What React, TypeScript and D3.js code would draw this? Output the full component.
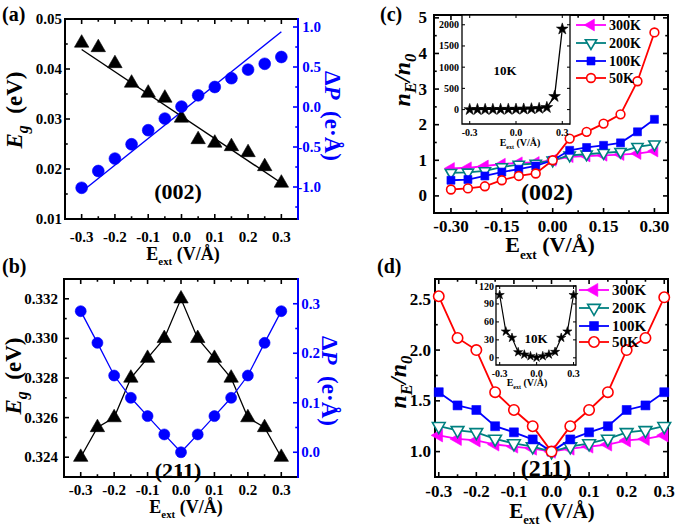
import React from 'react';
import * as d3 from 'd3';

const FONT = '"Liberation Serif", "Times New Roman", serif';
const BLUE = '#0000ff';
const MAGENTA = '#ff00ff';
const TEAL = '#008080';
const RED = '#ff0000';

// applied field E_ext (V/Å)
const field = [-0.3, -0.25, -0.2, -0.15, -0.1, -0.05, 0, 0.05, 0.1, 0.15, 0.2, 0.25, 0.3];
const fitEnds = [-0.3, 0.3];

// (a) (002) surface
const egA = [0.0452, 0.0443, 0.0411, 0.0372, 0.0352, 0.0342, 0.0302, 0.0259, 0.0252, 0.0245, 0.0233, 0.0205, 0.0172];
const dpA = [-1.01, -0.8, -0.645, -0.466, -0.29, -0.145, 0.005, 0.146, 0.25, 0.36, 0.467, 0.54, 0.625];
const egFitA = [0.0439, 0.0172];
const dpFitA = [-1.06, 0.94];

// (b) (211) surface
const egB = [0.324, 0.3255, 0.326, 0.328, 0.329, 0.33, 0.332, 0.33, 0.329, 0.328, 0.326, 0.3255, 0.324];
const dpB = [0.285, 0.221, 0.155, 0.11, 0.073, 0.036, 0, 0.036, 0.073, 0.11, 0.155, 0.221, 0.285];

// (c) n_E/n_0 for (002)
const nC300 = [0.77, 0.79, 0.84, 0.89, 0.93, 0.94, 1.0, 1.1, 1.12, 1.14, 1.16, 1.19, 1.26];
const nC200 = [0.65, 0.66, 0.7, 0.81, 0.88, 0.91, 1.0, 1.14, 1.17, 1.21, 1.24, 1.38, 1.45];
const nC100 = [0.44, 0.46, 0.56, 0.67, 0.75, 0.84, 1.0, 1.28, 1.36, 1.42, 1.49, 1.8, 2.15];
const nC50 = [0.18, 0.21, 0.27, 0.44, 0.56, 0.63, 1.0, 1.61, 1.8, 2.03, 2.29, 3.22, 4.59];
const nC10 = [1, 2, 3, 4, 5, 6, 8, 12, 18, 28, 50, 310, 1900];

// (d) n_E/n_0 for (211)
const nD300 = [1.16, 1.125, 1.11, 1.07, 1.05, 1.03, 1.0, 1.03, 1.05, 1.07, 1.11, 1.125, 1.16];
const nD200 = [1.25, 1.21, 1.19, 1.125, 1.08, 1.05, 1.0, 1.05, 1.08, 1.125, 1.19, 1.21, 1.25];
const nD100 = [1.585, 1.455, 1.41, 1.25, 1.19, 1.12, 1.0, 1.12, 1.19, 1.25, 1.41, 1.455, 1.585];
const nD50 = [2.53, 2.12, 2.0, 1.585, 1.41, 1.25, 1.0, 1.25, 1.41, 1.585, 2.0, 2.12, 2.52];
const nD10 = [105, 44, 33.5, 9.5, 5.5, 2.7, 0.5, 2.8, 5.6, 10, 33.5, 44, 105];

const temps = ['300K', '200K', '100K', '50K'];

// ticks
const ticksE = [-0.3, -0.2, -0.1, 0, 0.1, 0.2, 0.3];
const minorE = [-0.25, -0.15, -0.05, 0.05, 0.15, 0.25];
const ticksEc = [-0.3, -0.15, 0, 0.15, 0.3];
const minorEc = [-0.225, -0.075, 0.075, 0.225];
const ticksEgA = [0.01, 0.02, 0.03, 0.04, 0.05];
const minorEgA = [0.015, 0.025, 0.035, 0.045];
const ticksDpA = [-1, -0.5, 0, 0.5, 1];
const minorDpA = [-1.25, -0.75, -0.25, 0.25, 0.75];
const ticksEgB = [0.324, 0.326, 0.328, 0.33, 0.332];
const minorEgB = [0.323, 0.325, 0.327, 0.329, 0.331];
const ticksDpB = [0, 0.1, 0.2, 0.3];
const minorDpB = [0.05, 0.15, 0.25];
const ticksNc = [0, 1, 2, 3, 4, 5];
const minorNc = [0.5, 1.5, 2.5, 3.5, 4.5];
const ticksNd = [1, 1.5, 2, 2.5];
const minorNd = [1.25, 1.75, 2.25];
const ticksInX = [-0.3, 0, 0.3];
const ticksInC = [0, 500, 1000, 1500, 2000];
const ticksInD = [0, 30, 60, 90, 120];

const f1 = (v: number) => v.toFixed(1);
const f2 = (v: number) => v.toFixed(2);
const f3 = (v: number) => v.toFixed(3);
const f0 = (v: number) => v.toFixed(0);

type Scale = d3.ScaleLinear<number, number>;

const symPath = (kind: string, size: number) => {
  const type = kind.startsWith('tri')
    ? d3.symbolTriangle
    : kind === 'square'
    ? d3.symbolSquare
    : kind === 'star'
    ? d3.symbolStar
    : d3.symbolCircle;
  return d3.symbol().type(type).size(size)() || '';
};
const rot: Record<string, number> = { triLeft: -90, triDown: 180 };

const Marker = ({ kind, cx, cy, size, color, open }: any) => (
  <path
    d={symPath(kind, size)}
    transform={`translate(${cx},${cy}) rotate(${rot[kind] || 0})`}
    fill={open ? '#fff' : color}
    stroke={color}
    strokeWidth={open ? 1.6 : 0.6}
  />
);

const Series = ({ x, y, ys, color, lw, kind, size, open, noLine }: any) => {
  const line = d3
    .line<number>()
    .x((_, i) => x(field[i]))
    .y((v) => y(v));
  return (
    <g>
      {!noLine && <path d={line(ys) || ''} fill="none" stroke={color} strokeWidth={lw} />}
      {ys.map((v: number, i: number) => (
        <Marker key={i} kind={kind} cx={x(field[i])} cy={y(v)} size={size} color={color} open={open} />
      ))}
    </g>
  );
};

type FrameProps = {
  x: Scale;
  y: Scale;
  yR?: Scale;
  xTicks: number[];
  xMinor?: number[];
  yTicks: number[];
  yMinor?: number[];
  yRTicks?: number[];
  yRMinor?: number[];
  xFmt: (v: number) => string;
  yFmt: (v: number) => string;
  yRFmt?: (v: number) => string;
  fs: number;
  len: number;
  lw: number;
  xLab: number;
  yLab: number;
  yRLab?: number;
  rColor?: string;
  fill?: string;
};

const Frame = (p: FrameProps) => {
  const [x0, x1] = p.x.range();
  const [yb, yt] = p.y.range();
  const ml = p.len * 0.55;
  const rc = p.rColor || '#000';
  const rs = p.yR || p.y;
  const rTicks = p.yRTicks || p.yTicks;
  const rMinor = p.yRMinor || p.yMinor || [];
  const tk = (k: string, a: number, b: number, c: number, d: number, col = '#000') => (
    <line key={k} x1={a} y1={b} x2={c} y2={d} stroke={col} strokeWidth={p.lw * 0.8} />
  );
  return (
    <g>
      {p.fill && <rect x={x0} y={yt} width={x1 - x0} height={yb - yt} fill={p.fill} />}
      {p.xTicks.map((v) => tk('xb' + v, p.x(v), yb, p.x(v), yb - p.len))}
      {p.xTicks.map((v) => tk('xt' + v, p.x(v), yt, p.x(v), yt + p.len))}
      {(p.xMinor || []).map((v) => tk('xmb' + v, p.x(v), yb, p.x(v), yb - ml))}
      {(p.xMinor || []).map((v) => tk('xmt' + v, p.x(v), yt, p.x(v), yt + ml))}
      {p.yTicks.map((v) => tk('yl' + v, x0, p.y(v), x0 + p.len, p.y(v)))}
      {(p.yMinor || []).map((v) => tk('yml' + v, x0, p.y(v), x0 + ml, p.y(v)))}
      {rTicks.map((v) => tk('yr' + v, x1, rs(v), x1 - p.len, rs(v), rc))}
      {rMinor.map((v) => tk('ymr' + v, x1, rs(v), x1 - ml, rs(v), rc))}
      <path d={`M${x1},${yt}H${x0}V${yb}H${x1}`} fill="none" stroke="#000" strokeWidth={p.lw} />
      <line x1={x1} y1={yt - p.lw / 2} x2={x1} y2={yb + p.lw / 2} stroke={rc} strokeWidth={p.lw} />
      {p.xTicks.map((v) => (
        <text key={'lx' + v} x={p.x(v)} y={yb + p.xLab} textAnchor="middle" dominantBaseline="central" fontSize={p.fs}>
          {p.xFmt(v)}
        </text>
      ))}
      {p.yTicks.map((v) => (
        <text key={'ly' + v} x={x0 - p.yLab} y={p.y(v)} textAnchor="end" dominantBaseline="central" fontSize={p.fs}>
          {p.yFmt(v)}
        </text>
      ))}
      {p.yR &&
        p.yRFmt &&
        rTicks.map((v) => (
          <text key={'lr' + v} x={x1 + (p.yRLab || 0)} y={rs(v)} textAnchor="end" dominantBaseline="central" fontSize={p.fs} fill={rc}>
            {p.yRFmt!(v)}
          </text>
        ))}
    </g>
  );
};

const EextTitle = ({ x, y, fs }: any) => (
  <text x={x} y={y} fontSize={fs} textAnchor="middle">
    E
    <tspan fontSize={fs * 0.6} dy={fs * 0.3}>
      ext
    </tspan>
    <tspan dy={-fs * 0.3}>{'\u00a0(V/Å)'}</tspan>
  </text>
);

const EgTitle = ({ x, y, fs }: any) => (
  <text transform={`translate(${x},${y}) rotate(-90)`} fontSize={fs} textAnchor="middle">
    <tspan fontStyle="italic">E</tspan>
    <tspan fontStyle="italic" fontSize={fs * 0.7} dy={fs * 0.25}>
      g
    </tspan>
    <tspan dy={-fs * 0.25}>{'\u00a0\u00a0(eV)'}</tspan>
  </text>
);

const DpTitle = ({ x, y, fs }: any) => (
  <text transform={`translate(${x},${y}) rotate(90)`} fontSize={fs} textAnchor="middle" fill={BLUE}>
    Δ<tspan fontStyle="italic">P</tspan>
    {'\u00a0\u00a0(e·Å)'}
  </text>
);

const NTitle = ({ x, y, fs }: any) => (
  <text transform={`translate(${x},${y}) rotate(-90)`} fontSize={fs} textAnchor="middle" fontStyle="italic">
    n
    <tspan fontSize={fs * 0.7} dy={fs * 0.25}>
      E
    </tspan>
    <tspan dy={-fs * 0.25}>/n</tspan>
    <tspan fontSize={fs * 0.7} dy={fs * 0.25}>
      0
    </tspan>
  </text>
);

const seriesStyle = [
  { color: MAGENTA, kind: 'triLeft', open: false },
  { color: TEAL, kind: 'triDown', open: true },
  { color: BLUE, kind: 'square', open: false },
  { color: RED, kind: 'circle', open: true },
];

const Legend = ({ x, ys, fs, len, sizes }: any) => (
  <g>
    {temps.map((t, i) => {
      const s = seriesStyle[i];
      return (
        <g key={t}>
          <line x1={x} x2={x + len} y1={ys[i]} y2={ys[i]} stroke={s.color} strokeWidth={1.8} />
          <Marker kind={s.kind} cx={x + len / 2} cy={ys[i]} size={sizes[i]} color={s.color} open={s.open} />
          <text x={x + len + 3} y={ys[i]} dominantBaseline="central" fontSize={fs}>
            {t}
          </text>
        </g>
      );
    })}
  </g>
);

const PanelA = () => {
  const x = d3.scaleLinear().domain([-0.35, 0.35]).range([65, 298]);
  const y = d3.scaleLinear().domain([0.01, 0.05]).range([219, 19]);
  const yR = d3.scaleLinear().domain([-1.4, 1.1]).range([219, 19]);
  return (
    <g>
      <Frame
        x={x} y={y} yR={yR}
        xTicks={ticksE} xMinor={minorE} yTicks={ticksEgA} yMinor={minorEgA}
        yRTicks={ticksDpA} yRMinor={minorDpA}
        xFmt={f1} yFmt={f2} yRFmt={f1}
        fs={15} len={5} lw={2} xLab={18} yLab={3} yRLab={23} rColor={BLUE}
      />
      <line x1={x(fitEnds[0])} x2={x(fitEnds[1])} y1={y(egFitA[0])} y2={y(egFitA[1])} stroke="#000" strokeWidth={1.4} />
      <line x1={x(fitEnds[0])} x2={x(fitEnds[1])} y1={yR(dpFitA[0])} y2={yR(dpFitA[1])} stroke={BLUE} strokeWidth={1.4} />
      <Series x={x} y={y} ys={egA} color="#000" kind="triUp" size={90} noLine />
      <Series x={x} y={yR} ys={dpA} color={BLUE} kind="circle" size={110} noLine />
      <text x={178} y={199} fontSize={22} textAnchor="middle">(002)</text>
      <EextTitle x={183} y={260} fs={18} />
      <EgTitle x={22} y={110} fs={23} />
      <DpTitle x={325} y={116} fs={23} />
      <text x={2} y={21} fontSize={20}>(a)</text>
    </g>
  );
};

const PanelB = () => {
  const x = d3.scaleLinear().domain([-0.35, 0.35]).range([64, 298]);
  const y = d3.scaleLinear().domain([0.323, 0.333]).range([477, 279]);
  const yR = d3.scaleLinear().domain([-0.05, 0.35]).range([477, 279]);
  return (
    <g>
      <Frame
        x={x} y={y} yR={yR}
        xTicks={ticksE} xMinor={minorE} yTicks={ticksEgB} yMinor={minorEgB}
        yRTicks={ticksDpB} yRMinor={minorDpB}
        xFmt={f1} yFmt={f3} yRFmt={f1}
        fs={15} len={5} lw={2} xLab={13} yLab={6} yRLab={22} rColor={BLUE}
      />
      <Series x={x} y={y} ys={egB} color="#000" kind="triUp" size={90} lw={1.3} />
      <Series x={x} y={yR} ys={dpB} color={BLUE} kind="circle" size={95} lw={1.3} />
      <text x={178} y={478} fontSize={22} textAnchor="middle">(211)</text>
      <EextTitle x={186} y={513} fs={18} />
      <EgTitle x={21} y={376} fs={23} />
      <DpTitle x={322} y={381} fs={23} />
      <text x={2} y={273} fontSize={20}>(b)</text>
    </g>
  );
};

const PanelC = () => {
  const x = d3.scaleLinear().domain([-0.35, 0.34]).range([434, 668]);
  const y = d3.scaleLinear().domain([-0.48, 5.08]).range([213, 15]);
  const xi = d3.scaleLinear().domain([-0.35, 0.35]).range([462, 570]);
  const yi = d3.scaleLinear().domain([-340, 2230]).range([124, 15]);
  const data = [nC300, nC200, nC100, nC50];
  const sizes = [60, 55, 64, 60];
  return (
    <g>
      <Frame
        x={x} y={y}
        xTicks={ticksEc} xMinor={minorEc} yTicks={ticksNc} yMinor={minorNc}
        xFmt={f2} yFmt={f0}
        fs={17} len={5} lw={2} xLab={13} yLab={7}
      />
      {data.map((ys, i) => (
        <Series key={i} x={x} y={y} ys={ys} lw={1.8} size={sizes[i]} {...seriesStyle[i]} />
      ))}
      <Frame
        x={xi} y={yi}
        xTicks={ticksInX} yTicks={ticksInC}
        xFmt={f1} yFmt={f0}
        fs={10} len={3} lw={1.3} xLab={8} yLab={3} fill="#fff"
      />
      <Series x={xi} y={yi} ys={nC10} color="#000" kind="star" size={42} lw={1.3} />
      <text x={505} y={70} fontSize={13} textAnchor="middle" dominantBaseline="central">10K</text>
      <EextTitle x={520} y={146} fs={10} />
      <Legend x={576} ys={[25, 43, 61, 78]} fs={14} len={30} sizes={sizes} />
      <text x={547} y={200} fontSize={24} textAnchor="middle">(002)</text>
      <EextTitle x={550} y={252} fs={22} />
      <NTitle x={410} y={80} fs={24} />
      <text x={380} y={21} fontSize={20}>(c)</text>
    </g>
  );
};

const PanelD = () => {
  const x = d3.scaleLinear().domain([-0.31, 0.31]).range([435, 668]);
  const y = d3.scaleLinear().domain([0.75, 2.7]).range([477, 279]);
  const xi = d3.scaleLinear().domain([-0.33, 0.32]).range([496, 576]);
  const yi = d3.scaleLinear().domain([-12, 120]).range([365, 286]);
  const data = [nD300, nD200, nD100, nD50];
  const sizes = [75, 70, 80, 85];
  return (
    <g>
      <Frame
        x={x} y={y}
        xTicks={ticksE} xMinor={minorE} yTicks={ticksNd} yMinor={minorNd}
        xFmt={f1} yFmt={f1}
        fs={17} len={5} lw={2} xLab={14} yLab={4}
      />
      {data.map((ys, i) => (
        <Series key={i} x={x} y={y} ys={ys} lw={1.8} size={sizes[i]} {...seriesStyle[i]} />
      ))}
      <Frame
        x={xi} y={yi}
        xTicks={ticksInX} yTicks={ticksInD}
        xFmt={f1} yFmt={f0}
        fs={10} len={3} lw={1.3} xLab={8} yLab={2} fill="#fff"
      />
      <Series x={xi} y={yi} ys={nD10} color="#000" kind="star" size={26} lw={1.2} />
      <text x={536} y={338} fontSize={13} textAnchor="middle" dominantBaseline="central">10K</text>
      <EextTitle x={527} y={386} fs={10} />
      <Legend x={579} ys={[290, 308, 326, 342]} fs={15} len={30} sizes={sizes} />
      <text x={546} y={476} fontSize={24} textAnchor="middle">(211)</text>
      <EextTitle x={552} y={518} fs={21} />
      <NTitle x={406} y={382} fs={24} />
      <text x={377} y={273} fontSize={20}>(d)</text>
    </g>
  );
};

const App = () => (
  <div style={{ position: 'absolute', left: 0, top: 0 }}>
    <svg
      width={675}
      height={527}
      style={{ display: 'block', background: '#fff', fontFamily: FONT, fontWeight: 'bold' }}
    >
      <PanelA />
      <PanelB />
      <PanelC />
      <PanelD />
    </svg>
  </div>
);

export default App;
